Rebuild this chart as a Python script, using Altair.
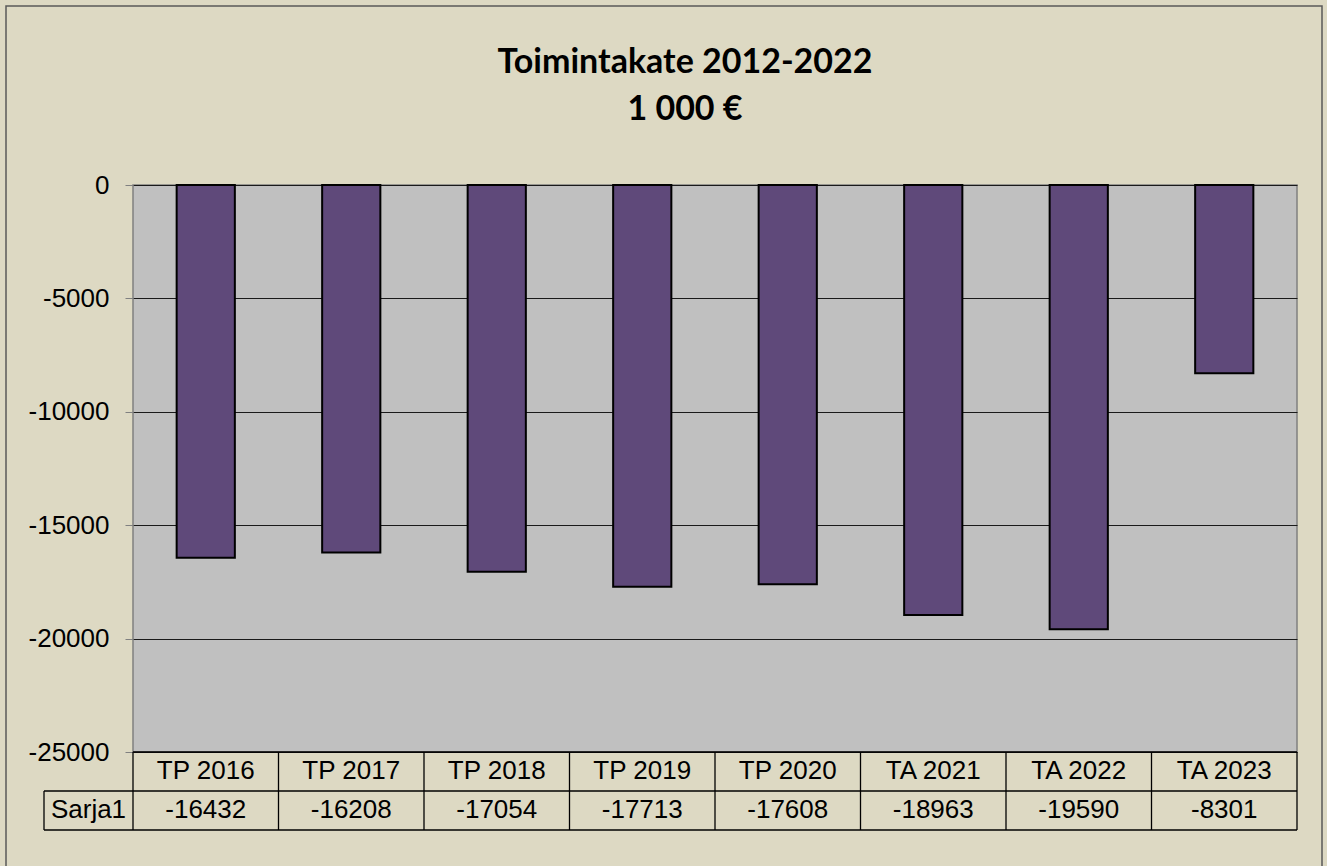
import altair as alt
import pandas as pd

categories = ["TP 2016", "TP 2017", "TP 2018", "TP 2019", "TP 2020", "TA 2021", "TA 2022", "TA 2023"]
values = [-16432, -16208, -17054, -17713, -17608, -18963, -19590, -8301]
series_name = "Sarja1"
title_lines = ["Toimintakate 2012-2022", "1 000 €"]
y_ticks = [0, -5000, -10000, -15000, -20000, -25000]

W, H = 1164, 567
FONT = "Liberation Sans"

df = pd.DataFrame({
    "cat": categories,
    "value": values,
    "label": [str(v) for v in values],
    "idx": list(range(len(categories))),
})
df["x0"] = df["idx"] + 0.3
df["x1"] = df["idx"] + 0.7
df["xc"] = df["idx"] + 0.5

bounds = pd.DataFrame({"b": list(range(len(categories) + 1))})

xs = alt.Scale(domain=[0, len(categories)], nice=False, zero=False)
ys = alt.Scale(domain=[-25000, 0], nice=False)

base = alt.Chart(df)

bars = base.mark_bar(fill="#5F497A", stroke="#000000", strokeWidth=2).encode(
    x=alt.X("x0:Q", scale=xs, axis=None),
    x2="x1:Q",
    y=alt.Y("value:Q", scale=ys, axis=alt.Axis(
        values=y_ticks, grid=True, gridColor="#1a1a1a", gridWidth=1,
        domain=False, tickColor="#808080", tickSize=8, tickWidth=1,
        labelFont=FONT, labelFontSize=26, labelColor="#000000",
        labelPadding=16, labelExpr="'' + datum.value", title=None)),
    y2=alt.datum(0),
)

cat_text = base.mark_text(font=FONT, fontSize=26, color="#000000", baseline="middle").encode(
    x=alt.X("xc:Q", scale=xs, axis=None),
    y=alt.value(586),
    text="cat:N",
)
val_text = base.mark_text(font=FONT, fontSize=26, color="#000000", baseline="middle").encode(
    x=alt.X("xc:Q", scale=xs, axis=None),
    y=alt.value(625),
    text="label:N",
)
series_text = alt.Chart(pd.DataFrame({"s": [series_name]})).mark_text(
    font=FONT, fontSize=26, color="#000000", baseline="middle").encode(
    x=alt.value(-44.5), y=alt.value(625), text="s:N")

vlines = alt.Chart(bounds).mark_rule(color="#000000", strokeWidth=1.3).encode(
    x=alt.X("b:Q", scale=xs, axis=None),
    y=alt.value(H), y2=alt.value(645),
)
one = pd.DataFrame({"k": [0]})
h_top = alt.Chart(one).mark_rule(color="#000000", strokeWidth=1.3).encode(
    x=alt.value(0), x2=alt.value(W), y=alt.value(H))
h_mid = alt.Chart(one).mark_rule(color="#000000", strokeWidth=1.3).encode(
    x=alt.value(-89), x2=alt.value(W), y=alt.value(606))
h_bot = alt.Chart(one).mark_rule(color="#000000", strokeWidth=1.3).encode(
    x=alt.value(-89), x2=alt.value(W), y=alt.value(645))
v_series = alt.Chart(one).mark_rule(color="#000000", strokeWidth=1.3).encode(
    x=alt.value(-89), y=alt.value(606), y2=alt.value(645))

outer = alt.Chart(one).mark_rect(fillOpacity=0, stroke="#5a5a5a", strokeWidth=1.5).encode(
    x=alt.value(-127), x2=alt.value(1189), y=alt.value(-179), y2=alt.value(720))

tdf = pd.DataFrame({"t": title_lines, "yy": [-112, -65]})
title = alt.Chart(tdf).mark_text(font="Lato", fontWeight="bold", fontSize=34,
                                 color="#000000", baseline="alphabetic").encode(
    x=alt.value(552), y=alt.Y("yy:Q", scale=None), text="t:N")

chart = alt.layer(bars, vlines, h_top, h_mid, h_bot, v_series, cat_text, val_text,
                  series_text, outer, title).properties(
    width=W, height=H,
    autosize=alt.AutoSizeParams(type="none"),
    padding={"left": 133, "top": 185, "right": 30, "bottom": 114},
    background="#DDD9C3",
).configure_view(fill="#C0C0C0", stroke="#808080", strokeWidth=1.5)

chart.save("out.html", embed_options={"renderer": "svg", "actions": False})
